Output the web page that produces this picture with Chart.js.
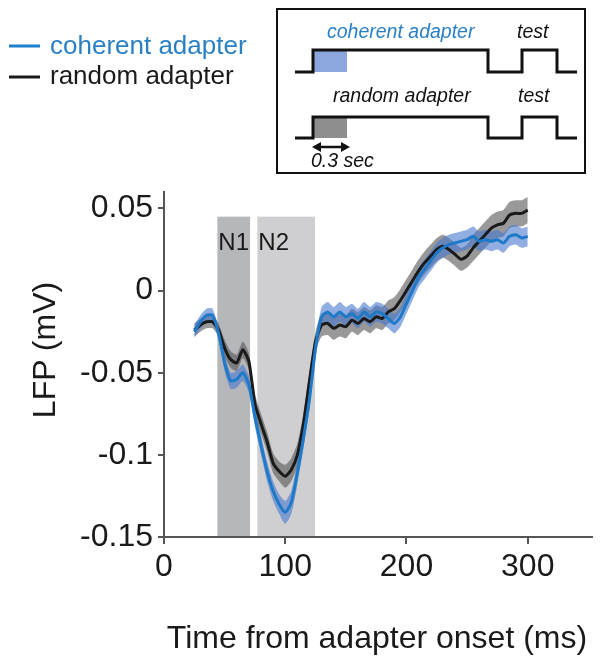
<!DOCTYPE html>
<html lang="en">
<head>
<meta charset="UTF-8">
<title>LFP after coherent vs random adapter</title>
<script src="https://cdn.jsdelivr.net/npm/chart.js@4.4.1/dist/chart.umd.min.js"></script>
<style>
    body { margin: 0; background: #fff; }
    #wrap { position: relative; width: 602px; height: 661px; }
    #chart, #overlay { position: absolute; left: 0; top: 0; }
    #overlay { pointer-events: none; }
    #overlay text { font-family: "Liberation Sans", Arial, sans-serif; }
</style>
</head>
<body>
<div id="wrap">
    <canvas id="chart" width="602" height="661"></canvas>
    <svg id="overlay" width="602" height="661">
        <!-- legend -->
        <line x1="9" y1="46" x2="40" y2="46" stroke="#1f7fc8" stroke-width="3"/>
        <text x="50" y="54" font-size="26" fill="#2a80c5">coherent adapter</text>
        <line x1="9" y1="77" x2="40" y2="77" stroke="#1a1a1a" stroke-width="3"/>
        <text x="50" y="84" font-size="26" fill="#1a1a1a">random adapter</text>

        <!-- stimulus schematic -->
        <rect x="277" y="9" width="308" height="164" fill="none" stroke="#111" stroke-width="2"/>
        <rect x="314" y="50" width="33" height="22" fill="#8ca7dd"/>
        <polyline points="295,72 313,72 313,50 488,50 488,72 522,72 522,50 557,50 557,72 577,72" fill="none" stroke="#111" stroke-width="3"/>
        <rect x="314" y="117" width="33" height="21" fill="#8e8e8e"/>
        <polyline points="295,138 313,138 313,117 488,117 488,138 522,138 522,117 557,117 557,138 577,138" fill="none" stroke="#111" stroke-width="3"/>
        <line x1="319" y1="147" x2="343" y2="147" stroke="#111" stroke-width="2.5"/>
        <polygon points="312,147 321,142 321,152" fill="#111"/>
        <polygon points="350,147 341,142 341,152" fill="#111"/>
        <text x="327" y="38" font-size="19.5" font-style="italic" fill="#2a80c5">coherent adapter</text>
        <text x="517" y="38" font-size="19.5" font-style="italic" fill="#111">test</text>
        <text x="333" y="102" font-size="19.5" font-style="italic" fill="#111">random adapter</text>
        <text x="518" y="102" font-size="19.5" font-style="italic" fill="#111">test</text>
        <text x="311" y="167" font-size="19.5" font-style="italic" fill="#111">0.3 sec</text>

        <!-- axis titles -->
        <text x="377" y="648" font-size="32" text-anchor="middle" fill="#1a1a1a">Time from adapter onset (ms)</text>
        <text transform="translate(55,350) rotate(-90)" font-size="32" text-anchor="middle" fill="#1a1a1a">LFP (mV)</text>
    </svg>
</div>
<script>
// time axis (ms from adapter onset)
const times = [25, 30, 35, 40, 45, 50, 55, 60, 65, 70,
    75, 80, 85, 90, 95, 100, 105, 110, 115, 120,
    125, 130, 135, 140, 145, 150, 155, 160, 165, 170,
    175, 180, 185, 190, 195, 200, 205, 210, 215, 220,
    225, 230, 235, 240, 245, 250, 255, 260, 265, 270,
    275, 280, 285, 290, 295, 300];

// random adapter, mean LFP (mV) and sem
const randomMean = [-0.024, -0.021, -0.019, -0.019, -0.024, -0.035, -0.042, -0.044, -0.036, -0.043,
    -0.069, -0.081, -0.092, -0.105, -0.110, -0.113, -0.109, -0.100, -0.081, -0.055,
    -0.031, -0.021, -0.020, -0.023, -0.021, -0.022, -0.018, -0.020, -0.017, -0.019,
    -0.016, -0.017, -0.013, -0.011, -0.006, 0.000, 0.006, 0.012, 0.017, 0.021,
    0.025, 0.027, 0.025, 0.022, 0.019, 0.021, 0.026, 0.030, 0.034, 0.038,
    0.040, 0.041, 0.046, 0.047, 0.047, 0.049];
const randomSem = [0.004, 0.004, 0.004, 0.004, 0.004, 0.005, 0.005, 0.005, 0.005, 0.005,
    0.006, 0.006, 0.006, 0.006, 0.006, 0.007, 0.007, 0.007, 0.006, 0.006,
    0.006, 0.007, 0.007, 0.007, 0.007, 0.007, 0.007, 0.007, 0.007, 0.007,
    0.007, 0.007, 0.007, 0.007, 0.007, 0.007, 0.007, 0.007, 0.007, 0.007,
    0.007, 0.007, 0.007, 0.007, 0.007, 0.007, 0.008, 0.008, 0.008, 0.008,
    0.008, 0.008, 0.008, 0.008, 0.008, 0.008];

// coherent adapter, mean LFP (mV) and sem
const coherentMean = [-0.025, -0.019, -0.015, -0.015, -0.026, -0.044, -0.055, -0.054, -0.050, -0.057,
    -0.077, -0.094, -0.110, -0.122, -0.130, -0.135, -0.129, -0.111, -0.090, -0.066,
    -0.035, -0.016, -0.013, -0.016, -0.013, -0.016, -0.014, -0.017, -0.013, -0.016,
    -0.013, -0.014, -0.017, -0.020, -0.016, -0.008, 0.000, 0.008, 0.013, 0.018,
    0.023, 0.026, 0.028, 0.029, 0.030, 0.031, 0.033, 0.030, 0.031, 0.030,
    0.031, 0.029, 0.033, 0.034, 0.032, 0.033];
const coherentSem = [0.004, 0.004, 0.004, 0.004, 0.004, 0.005, 0.005, 0.005, 0.005, 0.005,
    0.006, 0.006, 0.006, 0.006, 0.006, 0.007, 0.007, 0.007, 0.006, 0.006,
    0.006, 0.006, 0.006, 0.006, 0.006, 0.006, 0.006, 0.006, 0.006, 0.006,
    0.006, 0.006, 0.006, 0.006, 0.006, 0.006, 0.006, 0.006, 0.006, 0.006,
    0.006, 0.006, 0.006, 0.006, 0.006, 0.006, 0.006, 0.006, 0.006, 0.006,
    0.006, 0.006, 0.006, 0.006, 0.006, 0.006];

// analysis windows
const windowLabels = ['N1', 'N2'];
const windowStart = [44, 77];
const windowEnd = [71, 124.5];
const windowTop = 0.045;

const xTicks = [0, 100, 200, 300];
const yTicks = [-0.15, -0.1, -0.05, 0, 0.05];

const FONT = '"Liberation Sans", Arial, sans-serif';
Chart.defaults.font.family = FONT;

const pts = (vals) => times.map((t, i) => ({ x: t, y: vals[i] }));

const windowsPlugin = {
    id: 'windows',
    beforeDraw(chart) {
        const { ctx, scales: { x, y } } = chart;
        const colors = ['#b6b7bb', '#cfcfd1'];
        const top = y.getPixelForValue(windowTop);
        const bottom = y.getPixelForValue(y.min) - 1;
        ctx.save();
        windowLabels.forEach((label, i) => {
            const left = x.getPixelForValue(windowStart[i]);
            const right = x.getPixelForValue(windowEnd[i]);
            ctx.fillStyle = colors[i];
            ctx.fillRect(left, top, right - left, bottom - top);
            ctx.fillStyle = '#1a1a1a';
            ctx.font = '24px ' + FONT;
            ctx.textBaseline = 'alphabetic';
            ctx.fillText(label, left + 1, top + 33);
        });
        ctx.restore();
    }
};

const line = (data, color, order) => ({
    data, borderColor: color, borderWidth: 3, pointRadius: 0, tension: 0.2, fill: false, order
});
const band = (data, fill, bg, order) => ({
    data, borderWidth: 0, borderColor: 'transparent', backgroundColor: bg,
    pointRadius: 0, tension: 0.2, fill, order
});

new Chart(document.getElementById('chart'), {
    type: 'line',
    data: {
        datasets: [
            band(pts(randomMean.map((v, i) => v + randomSem[i])), false, 'transparent', 3),
            band(pts(randomMean.map((v, i) => v - randomSem[i])), '-1', 'rgba(85, 85, 85, 0.6)', 3),
            band(pts(coherentMean.map((v, i) => v + coherentSem[i])), false, 'transparent', 2),
            band(pts(coherentMean.map((v, i) => v - coherentSem[i])), '-1', 'rgba(70, 120, 205, 0.6)', 2),
            line(pts(randomMean), '#1a1a1a', 1),
            line(pts(coherentMean), '#1e7ac8', 0)
        ]
    },
    options: {
        responsive: false,
        animation: false,
        layout: { padding: { top: 192, right: 10, left: 0, bottom: 0 } },
        plugins: { legend: { display: false }, tooltip: { enabled: false } },
        scales: {
            x: {
                type: 'linear', min: 0, max: 353,
                afterBuildTicks: s => { s.ticks = xTicks.map(v => ({ value: v })); },
                afterFit: s => { s.height = 124; },
                grid: { drawOnChartArea: false, color: '#555', lineWidth: 2, tickLength: 7 },
                border: { color: '#555', width: 2 },
                ticks: { color: '#1a1a1a', font: { size: 32 }, padding: 4, maxRotation: 0, callback: v => String(v) }
            },
            y: {
                type: 'linear', min: -0.15, max: 0.06,
                afterBuildTicks: s => { s.ticks = yTicks.map(v => ({ value: v })); },
                afterFit: s => { s.width = 164; },
                grid: { drawOnChartArea: false, color: '#555', lineWidth: 2, tickLength: 6 },
                border: { color: '#555', width: 2 },
                ticks: { color: '#1a1a1a', font: { size: 32 }, padding: 5, callback: v => String(v) }
            }
        }
    },
    plugins: [windowsPlugin]
});
</script>
</body>
</html>
